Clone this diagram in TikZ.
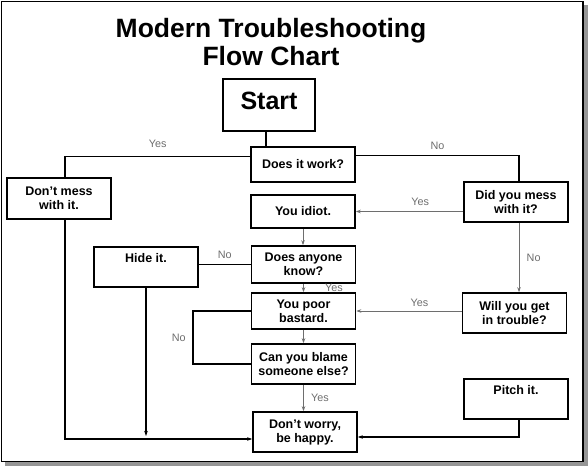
\documentclass[tikz,border=0pt]{standalone}
\usepackage{fontspec}
\setmainfont{Liberation Sans}
\usepackage{tikz}
\usetikzlibrary{arrows.meta,positioning}
\usepackage{xcolor}
\definecolor{answergray} {RGB}{110,110,110}
\definecolor{shadowgray} {RGB}{150,150,150}

\begin{document}
\begin{tikzpicture}[
    x=1pt, y=1pt,
    flowbox/.style={draw, rectangle, fill=white, line width=1.6pt, minimum width=104pt, minimum height=40pt, align=center, font=\fontsize{12.5}{14}\selectfont\bfseries},
    toptext/.style={text height=9pt, text depth=18pt},
    heavy/.style={line width=1.6pt},
    light/.style={draw=answergray, line width=0.8pt},
    tip/.style={-{Stealth[length=5pt,width=3.5pt]}},
    answer/.style={text=answergray, font=\fontsize{10.8}{12}\selectfont}
]
    \useasboundingbox (0,0) rectangle (588,466);
    \fill[shadowgray] (5,0) rectangle (588,461);
    \draw[fill=white, line width=1.2pt] (1.5,4.5) rectangle (583,464.5);

    \node[align=center, font=\fontsize{26.5}{28}\selectfont\bfseries] (title) at (271,424) {Modern Troubleshooting\\Flow Chart};
    \node[flowbox, minimum width=92pt, minimum height=52pt, text depth=9pt, font=\fontsize{25}{28}\selectfont\bfseries] (start) at (269,361) {Start};
    \node[flowbox, minimum height=35pt] (work) at (303,301.5) {Does it work?};
    \node[flowbox, minimum height=33pt] (idiot) at (303,254.5) {You idiot.};
    \node[flowbox, minimum height=37pt] (anyone) at (303.5,201.5) {Does anyone\\know?};
    \node[flowbox, minimum height=36pt] (poor) at (303.5,155) {You poor\\bastard.};
    \node[flowbox] (blame) at (303.5,102) {Can you blame\\someone else?};
    \node[flowbox] (worry) at (305,34) {Don’t worry,\\be happy.};
    \node[flowbox, minimum height=41pt] (leave) at (59,267.5) {Don’t mess\\with it.};
    \node[flowbox, toptext] (hide) at (146,199) {Hide it.};
    \node[flowbox] (mess) at (516,264) {Did you mess\\with it?};
    \node[flowbox] (trouble) at (514.5,153) {Will you get\\in trouble?};
    \node[flowbox, toptext] (pitch) at (516,67) {Pitch it.};
    \coordinate (hideend) at (146,30);

    \draw[heavy] ([xshift=-3pt]start.south) -- ([xshift=-3pt]start.south |- work.north);
    \draw[heavy] ([yshift=8pt]work.west) -| ([xshift=6pt]leave.north) node[answer, pos=0.25, above=5pt] {Yes};
    \draw[heavy] ([yshift=9pt]work.east) -| ([xshift=3pt]mess.north) node[answer, pos=0.25, above=2pt] {No};
    \draw[light, tip] (mess.west |- idiot.east) -- (idiot.east) node[answer, pos=0.4, above=2pt] {Yes};
    \draw[light, tip] ([xshift=3pt]mess.south) -- ([xshift=3pt]mess.south |- trouble.north) node[answer, midway, right=4pt] {No};
    \draw[light, tip] (idiot.south) -- (idiot.south |- anyone.north);
    \draw[heavy] (anyone.west) -- (anyone.west -| hide.east) node[answer, midway, above=2pt] {No};
    \draw[heavy, tip] (hide.south) -- (hideend);
    \draw[heavy, tip] ([xshift=6pt]leave.south) |- ([yshift=-7pt]worry.west);
    \draw[light, tip] (anyone.south) -- (anyone.south |- poor.north) node[answer, midway, right=18pt] {Yes};
    \draw[light, tip] (trouble.west |- poor.east) -- (poor.east) node[answer, pos=0.4, above=1pt] {Yes};
    \draw[light, tip] (poor.south) -- (poor.south |- blame.north);
    \draw[heavy] (blame.west) -| ([xshift=-58pt]poor.west) node[answer, pos=0.75, left=3pt] {No} -- (poor.west);
    \draw[light, tip] (blame.south) -- (blame.south |- worry.north) node[answer, midway, right=4pt] {Yes};
    \draw[heavy, tip] ([xshift=3pt]pitch.south) |- ([yshift=-5pt]worry.east);
\end{tikzpicture}
\end{document}
